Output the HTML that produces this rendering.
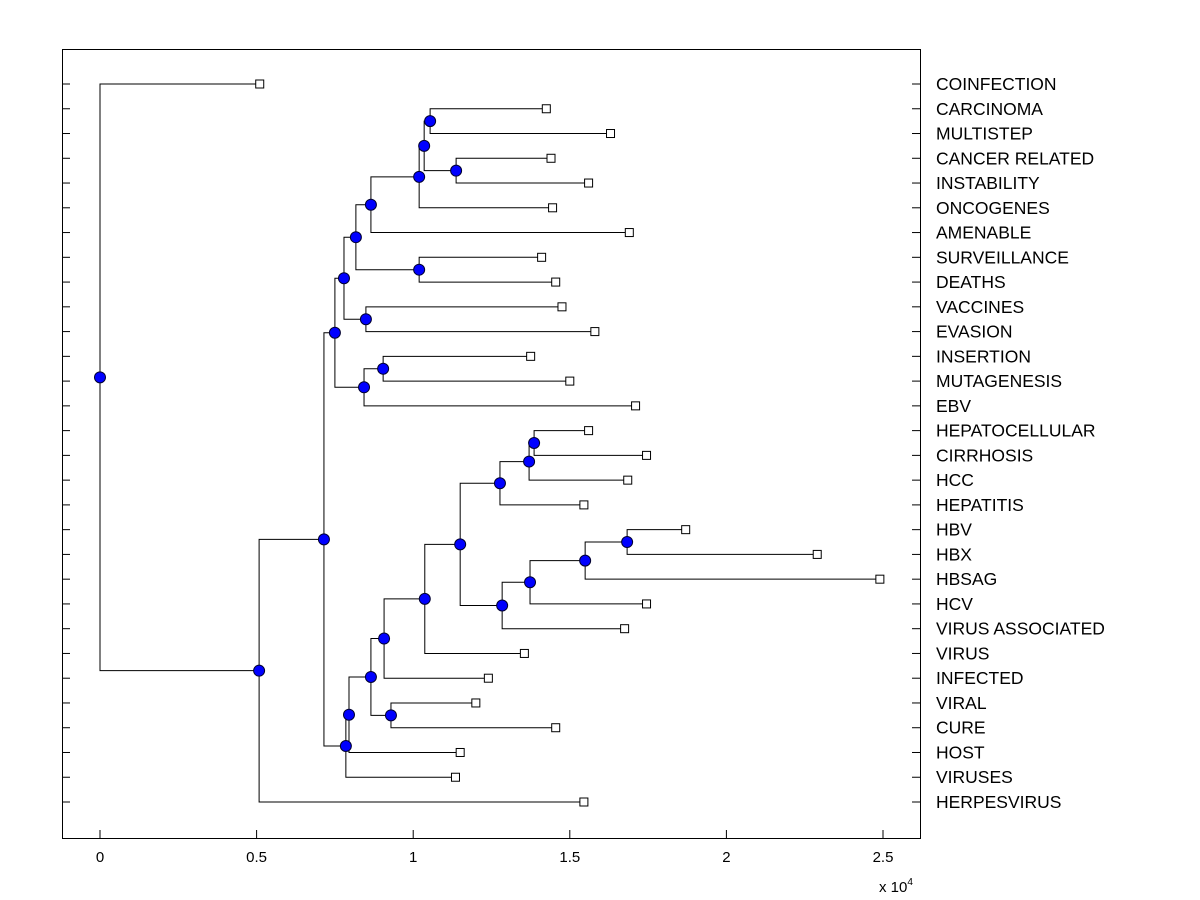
<!DOCTYPE html>
<html><head><meta charset="utf-8"><style>
body{margin:0;background:#fff;}
svg{display:block;font-family:"Liberation Sans",sans-serif;}
</style></head><body>
<svg id="chart" width="1200" height="900" viewBox="0 0 1200 900">
<rect x="0" y="0" width="1200" height="900" fill="#fff"/>
<rect x="62.5" y="49.5" width="858" height="789" fill="#fff" stroke="#000" stroke-width="1"/>
<g id="g"></g>
</svg>
<script>
const leafNames=["COINFECTION","CARCINOMA","MULTISTEP","CANCER RELATED","INSTABILITY","ONCOGENES","AMENABLE","SURVEILLANCE","DEATHS","VACCINES","EVASION","INSERTION","MUTAGENESIS","EBV","HEPATOCELLULAR","CIRRHOSIS","HCC","HEPATITIS","HBV","HBX","HBSAG","HCV","VIRUS ASSOCIATED","VIRUS","INFECTED","VIRAL","CURE","HOST","VIRUSES","HERPESVIRUS"];
const leafHeights=[0.51,1.425,1.63,1.44,1.56,1.445,1.69,1.41,1.455,1.475,1.58,1.375,1.5,1.71,1.56,1.745,1.685,1.545,1.87,2.29,2.49,1.745,1.675,1.355,1.24,1.2,1.455,1.15,1.135,1.545];
// children: <30 = leaf index, >=30 = merge index + 30
const mergeLeft=[1,3,30,32,33,7,34,9,36,11,39,38,14,42,43,18,45,46,47,44,49,50,25,51,53,54,41,56,0];
const mergeRight=[2,4,31,5,6,8,35,10,37,12,13,40,15,16,17,19,20,21,22,48,23,24,26,52,27,28,55,29,57];
const mergeHeights=[1.054,1.137,1.035,1.019,0.865,1.019,0.817,0.849,0.779,0.904,0.843,0.750,1.386,1.370,1.277,1.683,1.549,1.373,1.284,1.150,1.037,0.907,0.929,0.865,0.795,0.785,0.715,0.508,0];
const xTicks=[0,0.5,1,1.5,2,2.5];
const xTickLabels=["0","0.5","1","1.5","2","2.5"];
</script>
<script>
const NS="http://www.w3.org/2000/svg";
const g=document.getElementById('g');
const xs=v=>100+v*313.2;
const ys=i=>84+i*(802-84)/29;
function mk(t,a){const e=document.createElementNS(NS,t);for(const k in a)e.setAttribute(k,a[k]);g.appendChild(e);return e;}
const pos={};
for(let i=0;i<leafNames.length;i++)pos[i]={x:xs(leafHeights[i]),y:ys(i)};
for(let m=0;m<mergeLeft.length;m++){
  const a=pos[mergeLeft[m]],b=pos[mergeRight[m]],x=xs(mergeHeights[m]);
  pos[30+m]={x:x,y:(a.y+b.y)/2};
  let e=mk('path',{d:`M${a.x},${a.y}H${x}V${b.y}H${b.x}`,fill:'none',stroke:'#000','stroke-width':1});
  
  
}
for(let i=0;i<leafNames.length;i++){
  const y=ys(i);
  let t=mk('line',{x1:62,x2:70,y1:y,y2:y,stroke:'#000'});
  
  
  t=mk('line',{x1:912,x2:921,y1:y,y2:y,stroke:'#000'});
  
  
  const p=pos[i];
  let s=mk('rect',{x:p.x-4,y:p.y-4,width:8,height:8,fill:'#fff',stroke:'#000'});
  
  
  let lb=mk('text',{x:936,y:y+6,'font-size':17.5,fill:'#000'});
  lb.textContent=leafNames[i];
  
  
}
for(let m=0;m<mergeLeft.length;m++){
  const p=pos[30+m];
  let c=mk('circle',{cx:p.x,cy:p.y,r:5.5,fill:'#0000ff',stroke:'#000030','stroke-width':1});
  
  
}
for(let i=0;i<xTicks.length;i++){
  const x=xs(xTicks[i]);
  let t=mk('line',{x1:x,x2:x,y1:838,y2:830,stroke:'#000'});
  
  
  let lb=mk('text',{x:x,y:862,'font-size':15,'text-anchor':'middle',fill:'#000'});
  lb.textContent=xTickLabels[i];
  
  
}
let ex=mk('text',{x:879,y:892,'font-size':15,fill:'#000'});
ex.innerHTML='x 10<tspan dy="-7" font-size="10">4</tspan>';


</script>
</body></html>
